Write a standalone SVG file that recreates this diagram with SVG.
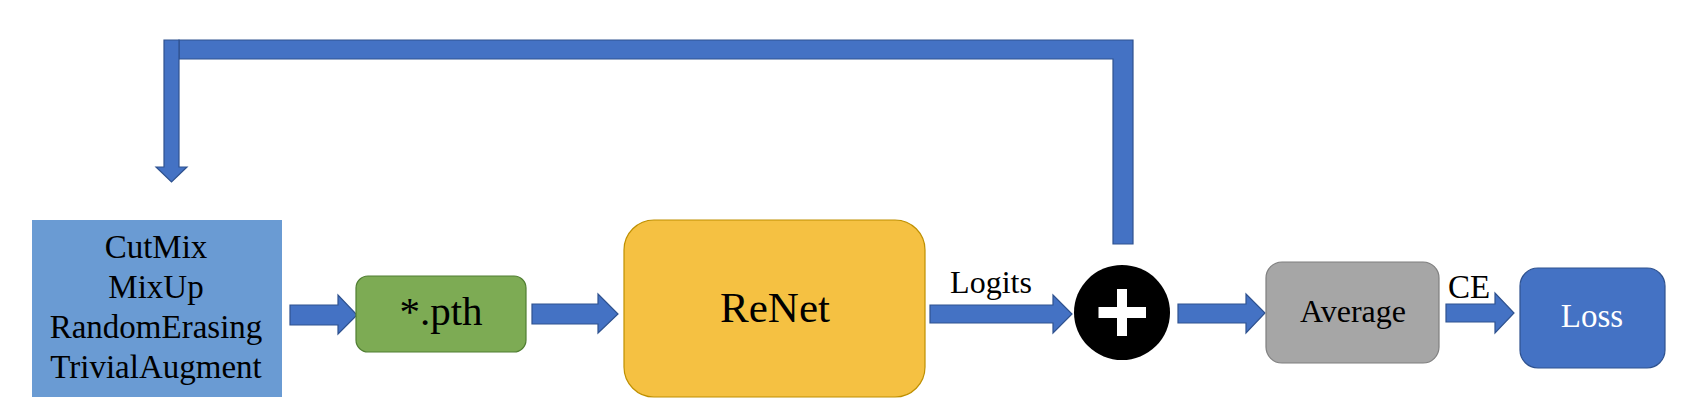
<svg xmlns="http://www.w3.org/2000/svg" width="1692" height="414" viewBox="0 0 1692 414">
<style>
  .t{font-family:"Liberation Serif","Times New Roman",serif;fill:#000;text-anchor:middle}
  .w{fill:#fff}
  .arr{fill:#4472C4;stroke:#2F528F;stroke-width:1.2;stroke-linejoin:miter}
</style>
<rect width="1692" height="414" fill="#fff"/>
<g id="connectors">
  <polygon class="arr" points="1113,244 1113,59 179,59 179,40 1133,40 1133,244"/>
  <polygon class="arr" points="164,40 179,40 179,167 187,167 171.5,182 156,167 164,167"/>
  <polygon class="arr" points="290,305 338,305 338,295 357,315 338,334 338,325 290,325"/>
  <polygon class="arr" points="532,304 598,304 598,294 618,314 598,333 598,324 532,324"/>
  <polygon class="arr" points="930,305 1053,305 1053,295 1072,314 1053,333 1053,323 930,323"/>
  <polygon class="arr" points="1178,304 1246,304 1246,294 1265,313 1246,333 1246,323 1178,323"/>
  <polygon class="arr" points="1446,304 1495,304 1495,293 1514,313 1495,333 1495,322 1446,322"/>
  <text class="t" x="991" y="293" font-size="32">Logits</text>
  <text class="t" x="1469" y="298" font-size="33">CE</text>
</g>
<g id="augment">
  <rect x="32" y="220" width="250" height="177" fill="#6A9BD3"/>
  <text class="t" x="156" y="258" font-size="33">CutMix</text>
  <text class="t" x="156" y="298" font-size="33">MixUp</text>
  <text class="t" x="156" y="338" font-size="33">RandomErasing</text>
  <text class="t" x="156" y="378" font-size="33">TrivialAugment</text>
</g>
<g id="pth">
  <rect x="356" y="276" width="170" height="76" rx="12" fill="#7DAB54" stroke="#507E32" stroke-width="1.2"/>
  <text class="t" x="441" y="325" font-size="41">*.pth</text>
</g>
<g id="renet">
  <rect x="624" y="220" width="301" height="177" rx="30" fill="#F5C142" stroke="#BF9000" stroke-width="1.2"/>
  <text class="t" x="775" y="322" font-size="43">ReNet</text>
</g>
<g id="sum">
  <ellipse cx="1122" cy="312.5" rx="48" ry="47.5" fill="#000"/>
  <rect x="1098.5" y="307" width="47.5" height="11" fill="#fff"/>
  <rect x="1117" y="289" width="10" height="47" fill="#fff"/>
</g>
<g id="average">
  <rect x="1266" y="262" width="173" height="101" rx="16" fill="#A6A6A6" stroke="#7F7F7F" stroke-width="1.2"/>
  <text class="t" x="1353" y="322" font-size="32">Average</text>
</g>
<g id="loss">
  <rect x="1520" y="268" width="145" height="100" rx="18" fill="#4472C4" stroke="#2F528F" stroke-width="1.2"/>
  <text class="t w" x="1592" y="327" font-size="33">Loss</text>
</g>
</svg>
